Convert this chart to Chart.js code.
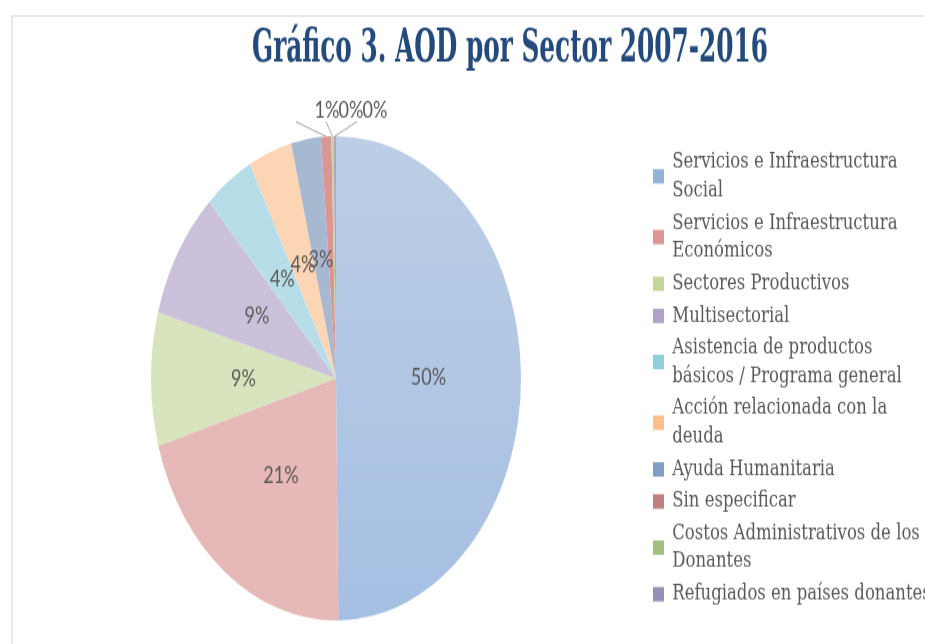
<!DOCTYPE html>
<html>
<head>
<meta charset="utf-8">
<script src="https://cdn.jsdelivr.net/npm/chart.js@4.4.1/dist/chart.umd.min.js"></script>
<style>
  body { margin: 0; background: #fff; }
  #marco { position: absolute; left: 11px; top: 15px; width: 930px; height: 640px; border-left: 2px solid #e9e9e9; border-top: 2px solid #e9e9e9; }
</style>
</head>
<body>
<div id="marco"></div>
<canvas id="grafico" width="925" height="492" style="position:absolute;left:0;top:0;width:925px;height:644px"></canvas>
<script>
// DATOS
const titulo = 'Gráfico 3. AOD por Sector 2007-2016';

const sectores = [
  ['Servicios e Infraestructura', 'Social'],
  ['Servicios e Infraestructura', 'Económicos'],
  'Sectores Productivos',
  'Multisectorial',
  ['Asistencia de productos', 'básicos / Programa general'],
  ['Acción relacionada con la', 'deuda'],
  'Ayuda Humanitaria',
  'Sin especificar',
  ['Costos Administrativos de los', 'Donantes'],
  'Refugiados en países donantes'
];

const porcentajes = [49.8, 20.7, 8.9, 8.6, 4.3, 3.8, 2.6, 0.9, 0.2, 0.2];

const coloresPastel = ['#B8CCE4', '#E6B9B8', '#D7E4BD', '#CCC1DA', '#B7DEE8',
                       '#FCD5B5', '#A7B9D1', '#D99694', '#C3D69B', '#B3A2C7'];
const coloresLeyenda = ['#95B3D7', '#DA9694', '#C4D79B', '#B1A0C7', '#92CDDC',
                        '#FABF8F', '#809EC2', '#C0807F', '#A3BE81', '#9590B8'];

const fuenteLeyenda = { family: 'DejaVu Serif', size: 16.5, lineHeight: 1.3 };
const altoEntrada = 21;

// titulo estrecho, como en el original
const tituloPlugin = {
  id: 'tituloEstrecho',
  afterDraw(chart) {
    const ctx = chart.ctx;
    ctx.save();
    ctx.font = 'bold 36px "DejaVu Serif"';
    const escala = 516 / ctx.measureText(titulo).width;
    ctx.translate(510, 47);
    ctx.scale(escala, 1);
    ctx.fillStyle = '#244A7C';
    ctx.textAlign = 'center';
    ctx.textBaseline = 'alphabetic';
    ctx.fillText(titulo, 0, 0);
    ctx.restore();
  }
};

// porcentajes sobre las porciones
const etiquetasPlugin = {
  id: 'etiquetas',
  afterDatasetsDraw(chart) {
    const ctx = chart.ctx;
    const meta = chart.getDatasetMeta(0);
    const total = porcentajes.reduce((a, b) => a + b, 0);
    const guias = [-40, -10, 21];
    let k = 0;
    ctx.save();
    ctx.font = '18px Lato';
    ctx.fillStyle = '#595959';
    ctx.textAlign = 'center';
    ctx.textBaseline = 'middle';
    meta.data.forEach((arco, i) => {
      const pct = porcentajes[i] / total * 100;
      const texto = Math.round(pct) + '%';
      if (pct >= 2) {
        const p = arco.tooltipPosition(true);
        ctx.fillText(texto, p.x, p.y);
      } else {
        const medio = (arco.startAngle + arco.endAngle) / 2;
        const bx = arco.x + Math.cos(medio) * arco.outerRadius;
        const by = arco.y + Math.sin(medio) * arco.outerRadius;
        const arriba = arco.y - arco.outerRadius;
        ctx.strokeStyle = '#A6A6A6';
        ctx.lineWidth = 1;
        ctx.beginPath();
        ctx.moveTo(bx, by);
        ctx.lineTo(arco.x + guias[k], arriba - 11);
        ctx.stroke();
        ctx.fillText(texto, arco.x - 9 + k * 24, arriba - 20);
        k++;
      }
    });
    ctx.restore();
  }
};

// cuadros de la leyenda centrados en cada entrada
const cajasPlugin = {
  id: 'cajasLeyenda',
  afterDraw(chart) {
    const ctx = chart.ctx;
    const lh = fuenteLeyenda.size * fuenteLeyenda.lineHeight;
    chart.legend.legendHitBoxes.forEach((hb, i) => {
      const lineas = Array.isArray(sectores[i]) ? sectores[i].length : 1;
      const cy = hb.top + altoEntrada / 2 + (lineas - 1) * lh / 2;
      ctx.fillStyle = coloresLeyenda[i];
      ctx.fillRect(hb.left, cy - 5.5, 11, 11);
    });
  }
};

const grafico = document.getElementById('grafico');

new Chart(grafico, {
  type: 'pie',
  data: {
    labels: sectores,
    datasets: [{
      label: 'AOD por sector',
      data: porcentajes,
      backgroundColor: (c) => {
        const area = c.chart.chartArea;
        if (c.dataIndex !== 0 || !area) return coloresPastel[c.dataIndex];
        const g = c.chart.ctx.createLinearGradient(0, area.top, 0, area.bottom);
        g.addColorStop(0, '#BDCFE6');
        g.addColorStop(1, '#A5BFE3');
        return g;
      },
      borderWidth: 0
    }]
  },
  options: {
    responsive: false,
    animation: false,
    layout: { padding: { top: 104, bottom: 18, left: 22.5, right: 0 } },
    plugins: {
      title: { display: false },
      tooltip: { enabled: false },
      legend: {
        position: 'right',
        maxWidth: 275.5,
        labels: {
          boxWidth: 11,
          boxHeight: altoEntrada,
          padding: 3.5,
          color: '#595959',
          font: fuenteLeyenda,
          generateLabels: () => sectores.map((s, i) => ({
            text: s,
            fillStyle: 'rgba(0,0,0,0)',
            strokeStyle: 'rgba(0,0,0,0)',
            fontColor: '#595959',
            lineWidth: 0,
            hidden: false,
            index: i
          }))
        }
      }
    }
  },
  plugins: [tituloPlugin, etiquetasPlugin, cajasPlugin]
});
</script>
</body>
</html>
